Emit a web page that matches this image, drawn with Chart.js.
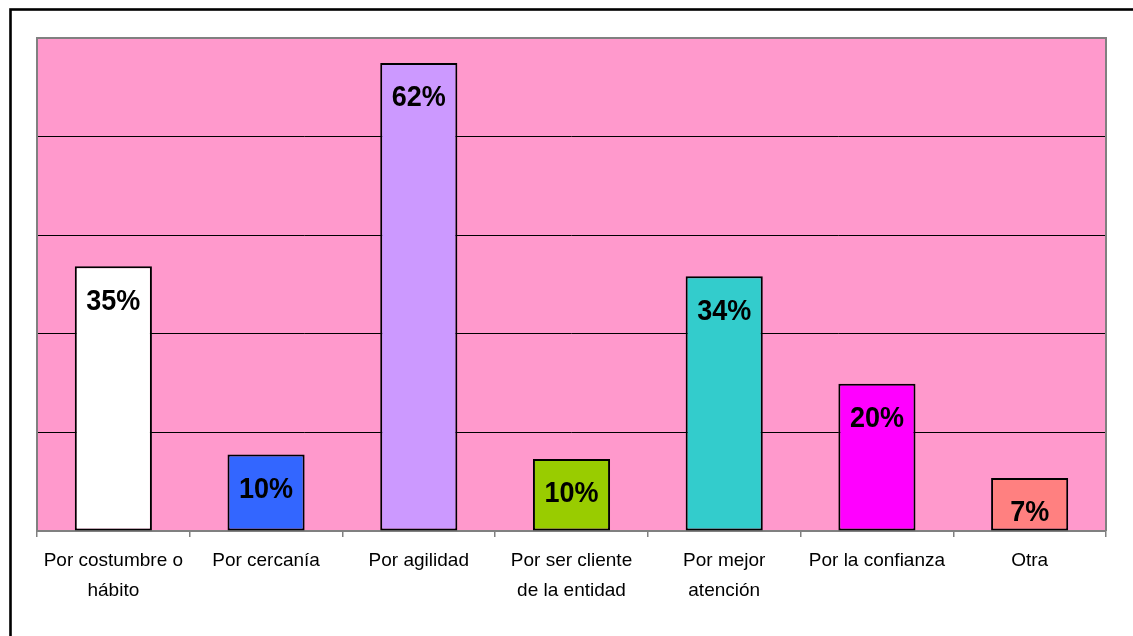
<!DOCTYPE html>
<html>
<head>
<meta charset="utf-8">
<script src="https://cdn.jsdelivr.net/npm/chart.js@4/dist/chart.umd.min.js"></script>
<style>
  html, body { margin: 0; padding: 0; background: #fff; overflow: hidden; }
  #wrap { position: relative; width: 1133px; height: 636px; }
</style>
</head>
<body>
<div id="wrap"><canvas id="c"></canvas></div>
<script>
const categories = [
  ["Por costumbre o", "hábito"],
  "Por cercanía",
  "Por agilidad",
  ["Por ser cliente", "de la entidad"],
  ["Por mejor", "atención"],
  "Por la confianza",
  "Otra"
];
const values = [34.9, 10.1, 61.7, 9.5, 33.6, 19.4, 7.0];
const valueLabels = ["35%", "10%", "62%", "10%", "34%", "20%", "7%"];
const barColors = ["#FFFFFF", "#3366FF", "#CC99FF", "#99CC00", "#33CCCC", "#FF00FF", "#FF8080"];
const axisMax = 65;
const axisStep = 13;

const FONT = "'Liberation Sans', Arial, sans-serif";

const framePlugin = {
  id: 'frame',
  beforeDraw(chart) {
    const ctx = chart.ctx, a = chart.chartArea;
    ctx.save();
    ctx.fillStyle = '#FFFFFF';
    ctx.fillRect(0, 0, chart.width, chart.height);
    ctx.strokeStyle = '#000000';
    ctx.lineWidth = 2.6;
    ctx.strokeRect(10.5, 9.5, chart.width + 50, chart.height + 50);
    ctx.fillStyle = '#FF99CC';
    ctx.fillRect(a.left, a.top, a.right - a.left, a.bottom - a.top);
    ctx.restore();
  },
  beforeDatasetsDraw(chart) {
    const ctx = chart.ctx, a = chart.chartArea;
    ctx.save();
    ctx.strokeStyle = '#808080';
    ctx.lineWidth = 2;
    ctx.beginPath();
    ctx.moveTo(a.left, a.bottom);
    ctx.lineTo(a.left, a.top);
    ctx.lineTo(a.right, a.top);
    ctx.lineTo(a.right, a.bottom);
    ctx.stroke();
    ctx.restore();
  },
  afterDatasetsDraw(chart) {
    const ctx = chart.ctx;
    const meta = chart.getDatasetMeta(0);
    meta.data.forEach((bar, i) => {
      ctx.save();
      ctx.fillStyle = '#000000';
      ctx.font = "bold 27px " + FONT;
      ctx.textAlign = 'center';
      ctx.textBaseline = 'middle';
      ctx.translate(bar.x, bar.y + 35);
      ctx.scale(1.0, 1.12);
      ctx.fillText(valueLabels[i], 0, 0);
      ctx.restore();
    });
  }
};

new Chart(document.getElementById('c'), {
  type: 'bar',
  data: {
    labels: categories,
    datasets: [{
      data: values,
      backgroundColor: barColors,
      borderColor: '#000000',
      borderWidth: 2,
      borderSkipped: false,
      barPercentage: 0.505,
      categoryPercentage: 1.0
    }]
  },
  options: {
    responsive: true,
    maintainAspectRatio: false,
    animation: false,
    devicePixelRatio: 1,
    layout: { padding: { left: 37, top: 38, right: 27, bottom: 0 } },
    plugins: { legend: { display: false }, tooltip: { enabled: false } },
    scales: {
      x: {
        offset: true,
        afterFit(scale) { scale.height = 105; },
        grid: {
          offset: true,
          drawOnChartArea: false,
          drawTicks: true,
          tickLength: 6,
          color: '#808080',
          lineWidth: 1.5
        },
        border: { display: true, color: '#808080', width: 2 },
        ticks: {
          color: '#000000',
          padding: 9,
          maxRotation: 0,
          autoSkip: false,
          font: { family: FONT, size: 19, lineHeight: 1.57 }
        }
      },
      y: {
        min: 0,
        max: axisMax,
        ticks: { display: false, stepSize: axisStep },
        border: { display: false },
        grid: {
          drawTicks: false,
          lineWidth: 1,
          color: (c) => (c.tick && (c.tick.value === 0 || c.tick.value === axisMax)) ? 'rgba(0,0,0,0)' : '#000000'
        }
      }
    }
  },
  plugins: [framePlugin]
});
</script>
</body>
</html>
